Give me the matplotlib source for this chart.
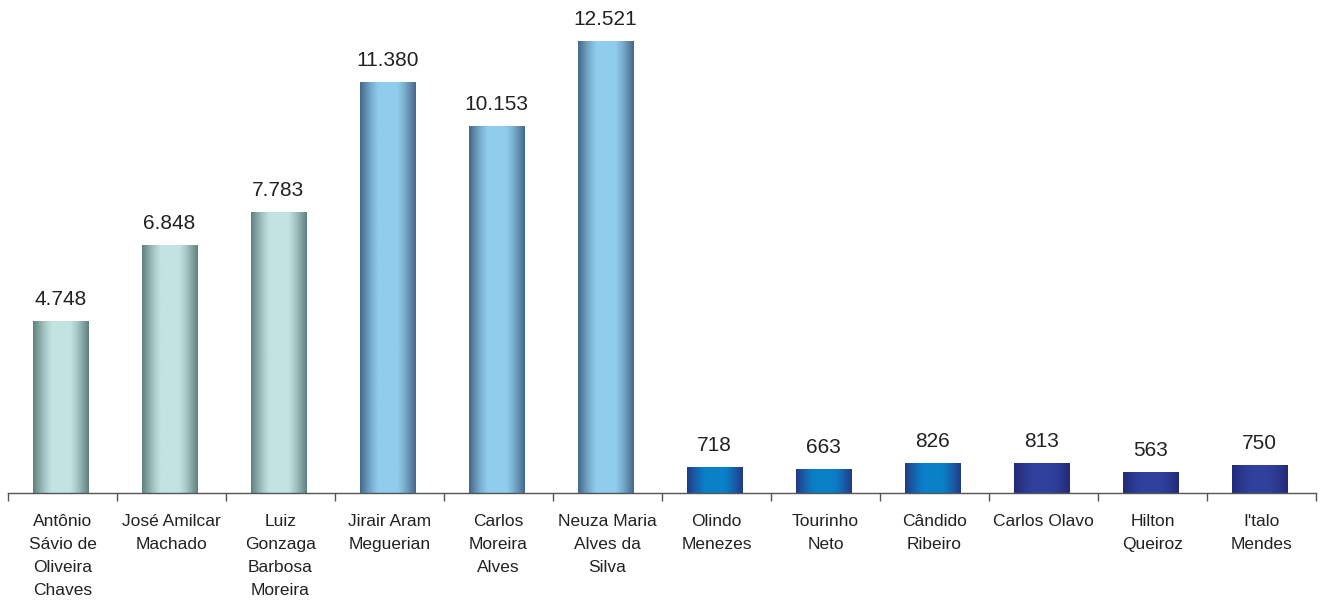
import numpy as np
import matplotlib
matplotlib.use("Agg")
import matplotlib.pyplot as plt
from matplotlib.colors import LinearSegmentedColormap

names = [
    "Antônio\nSávio de\nOliveira\nChaves",
    "José Amilcar\nMachado",
    "Luiz\nGonzaga\nBarbosa\nMoreira",
    "Jirair Aram\nMeguerian",
    "Carlos\nMoreira\nAlves",
    "Neuza Maria\nAlves da\nSilva",
    "Olindo\nMenezes",
    "Tourinho\nNeto",
    "Cândido\nRibeiro",
    "Carlos Olavo",
    "Hilton\nQueiroz",
    "I'talo\nMendes",
]
values = [4748, 6848, 7783, 11380, 10153, 12521, 718, 663, 826, 813, 563, 750]
labels = ["4.748", "6.848", "7.783", "11.380", "10.153", "12.521",
          "718", "663", "826", "813", "563", "750"]
# (edge colour, centre colour) for each group of bars
groups = [0, 0, 0, 1, 1, 1, 2, 2, 2, 3, 3, 3]
group_colors = [
    ("#5e807f", "#c3e3e1"),
    ("#45678a", "#90cdec"),
    ("#233a85", "#0a80c8"),
    ("#232a78", "#30419d"),
]

plt.rcParams["font.family"] = ["Liberation Sans", "DejaVu Sans"]

fig = plt.figure(figsize=(13.22, 6.02), dpi=100)
ax = fig.add_axes([8 / 1322, 1 - 493 / 602, 1308 / 1322, 493 / 602])

x = np.arange(len(values))
bars = ax.bar(x - 0.02, values, width=0.51, color="none", edgecolor="none")

# horizontal shading: dark edges, light centre
t = np.linspace(0, 1, 200)
prof = np.clip(np.sin(np.pi * t) * 1.15, 0, 1)
for bar, g in zip(bars, groups):
    edge, centre = group_colors[g]
    cmap = LinearSegmentedColormap.from_list("g", [edge, centre])
    x0 = bar.get_x()
    w = bar.get_width()
    h = bar.get_height()
    ax.imshow(prof[np.newaxis, :], cmap=cmap, vmin=0, vmax=1,
              extent=[x0, x0 + w, 0, h], aspect="auto", zorder=2)

for xi, v, lab in zip(x - 0.02, values, labels):
    ax.annotate(lab, (xi, v), xytext=(0, 9), textcoords="offset points",
                ha="center", va="bottom", fontsize=15, color="#222222")

ax.set_xlim(-0.5, len(values) - 0.5)
ax.set_ylim(0, 13657)
ax.set_aspect("auto")

ax.set_xticks(x)
ax.set_xticklabels(names, fontsize=12.5, linespacing=1.68, color="#222222", va="top")
ax.tick_params(axis="x", which="major", length=0, pad=15)
ax.set_xticks(np.arange(-0.5, len(values)), minor=True)
ax.tick_params(axis="x", which="minor", length=6, width=1, color="#555555", direction="out")
ax.set_yticks([])

for s in ["left", "top", "right"]:
    ax.spines[s].set_visible(False)
ax.spines["bottom"].set_color("#555555")
ax.spines["bottom"].set_linewidth(1)

fig.savefig("out.png", dpi=100)
